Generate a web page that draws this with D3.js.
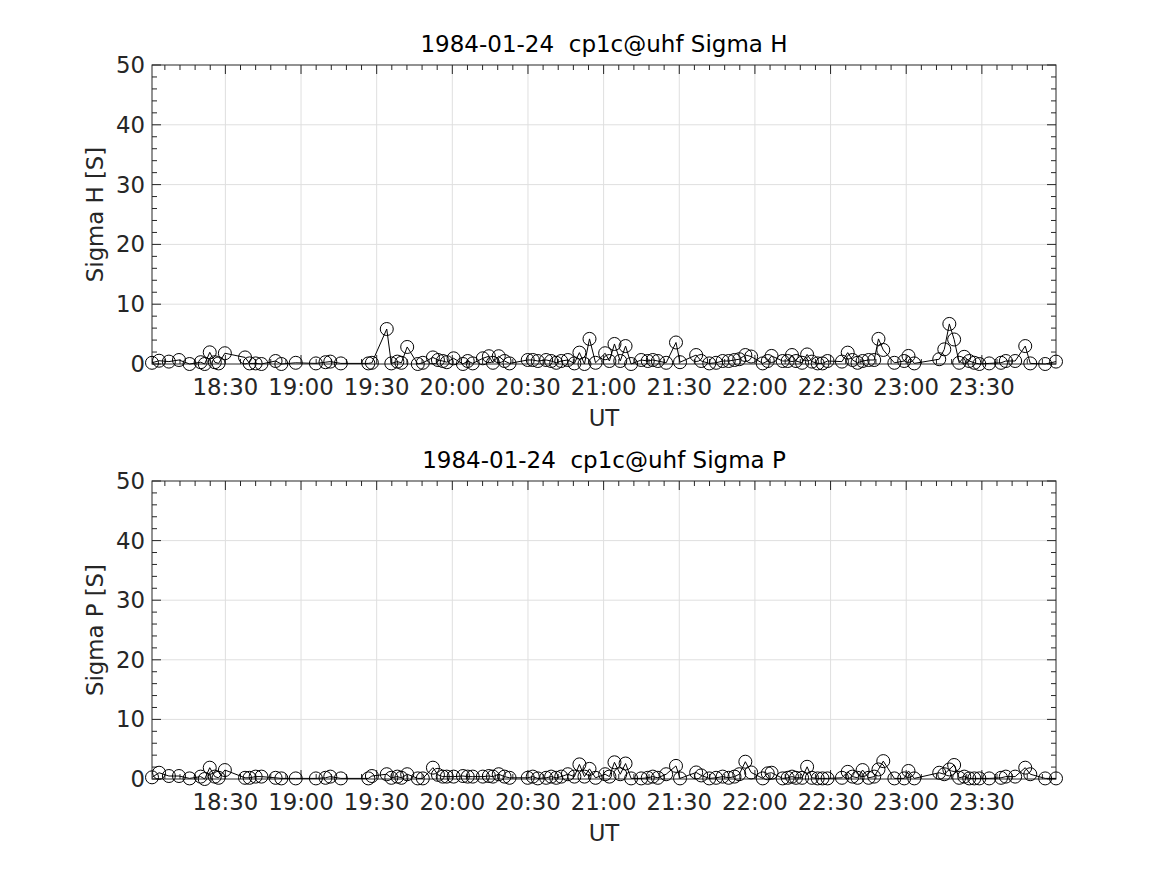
<!DOCTYPE html>
<html>
<head>
<meta charset="utf-8">
<script src="https://cdn.jsdelivr.net/npm/d3@7"></script>
<style>
  body { margin: 0; background: #fff; }
  text { font-family: "DejaVu Sans", sans-serif; fill: #262626; }
</style>
</head>
<body>
<div id="chart"></div>
<script>
// minutes after 18:00 UT, 1984-01-24
let utMinutes = [0.9, 3.7, 7.6, 11.6, 15.8, 20.2, 21.8, 23.8, 25.8, 27.3, 29.8, 37.8, 39.6, 42.0, 44.3, 49.9, 52.2, 57.9, 65.9, 69.7,
  71.6, 75.8, 86.7, 88.1, 94.0, 95.8, 98.2, 99.8, 102.1, 106.3, 108.3, 112.3, 114.3, 116.2, 117.8, 120.5, 124.2, 126.1, 128.1, 132.1,
  134.5, 136.1, 138.4, 140.7, 142.7, 149.9, 151.9, 153.9, 157.2, 159.2, 161.2, 163.2, 165.8, 168.4, 170.4, 172.4, 174.4, 176.8, 180.6, 182.3,
  184.3, 186.6, 188.7, 190.9, 194.9, 197.5, 199.5, 201.5, 204.8, 208.7, 210.3, 216.7, 218.7, 221.9, 224.6, 227.2, 229.6, 231.9, 233.8, 236.2,
  238.5, 243.1, 245.1, 246.6, 251.0, 253.0, 254.7, 256.3, 258.7, 260.7, 262.6, 264.9, 266.8, 268.8, 274.5, 276.8, 278.7, 280.7, 282.7, 285.1,
  287.3, 289.0, 290.9, 295.3, 299.2, 300.9, 303.2, 313.1, 315.1, 317.1, 319.0, 321.0, 323.0, 325.0, 327.0, 329.0, 332.9, 337.6, 339.5, 343.2,
  347.2, 349.2, 355.1, 359.4];

let sigmaH = [0.2, 0.55, 0.4, 0.67, 0, 0.3, 0, 1.95, 0.3, 0.1, 1.8, 1.1, 0.1, 0.1, 0, 0.5, 0, 0.2, 0.1, 0.3,
  0.4, 0.1, 0.1, 0.2, 5.85, 0.1, 0.4, 0.2, 2.85, 0, 0.2, 1.1, 0.67, 0.5, 0.3, 0.95, 0, 0.5, 0.1, 0.95,
  1.3, 0.2, 1.3, 0.5, 0.1, 0.67, 0.67, 0.5, 0.67, 0.5, 0.2, 0.5, 0.67, 0.1, 1.9, 0, 4.2, 0.2, 1.8, 0.5,
  3.35, 0.5, 3.0, 0, 0.67, 0.5, 0.67, 0.5, 0.2, 3.6, 0.3, 1.5, 0.5, 0.1, 0.2, 0.5, 0.5, 0.67, 0.8, 1.5,
  1.25, 0.1, 0.5, 1.35, 0.5, 0.5, 1.5, 0.5, 0.2, 1.6, 0.4, 0.1, 0.1, 0.5, 0.4, 1.9, 0.67, 0.2, 0.5, 0.67,
  0.67, 4.2, 2.35, 0.2, 0.5, 1.35, 0.1, 0.8, 2.45, 6.7, 4.1, 0.2, 1.2, 0.5, 0.2, 0, 0.1, 0.2, 0.5, 0.5,
  3.0, 0.1, 0, 0.4];

let sigmaP = [0.28, 1.05, 0.5, 0.5, 0.1, 0.4, 0, 1.9, 0.4, 0.2, 1.5, 0.2, 0.2, 0.4, 0.4, 0.2, 0.1, 0.1, 0.1, 0.2,
  0.4, 0.1, 0.1, 0.5, 0.8, 0.2, 0.4, 0.2, 0.8, 0.1, 0.1, 1.9, 0.7, 0.4, 0.4, 0.4, 0.5, 0.4, 0.4, 0.4,
  0.5, 0.4, 0.8, 0.4, 0.2, 0.2, 0.4, 0.1, 0.2, 0.4, 0.2, 0.4, 0.8, 0.4, 2.45, 0.4, 1.7, 0.2, 0.8, 0.4,
  2.8, 0.8, 2.6, 0.1, 0.1, 0.2, 0.4, 0.2, 0.8, 2.2, 0.1, 1.1, 0.6, 0.1, 0.2, 0.4, 0.2, 0.4, 0.8, 2.9,
  1.1, 0.1, 0.95, 1.05, 0.1, 0.2, 0.4, 0.2, 0.2, 2.05, 0.2, 0.1, 0.1, 0.1, 0.2, 1.2, 0.4, 0.2, 1.5, 0.2,
  0.4, 1.6, 3.0, 0.1, 0.1, 1.35, 0.1, 1.05, 0.8, 1.6, 2.35, 0.2, 0.4, 0.1, 0.1, 0.1, 0.1, 0.2, 0.4, 0.4,
  1.9, 0.8, 0.1, 0.1];

let yTicks = [0, 10, 20, 30, 40, 50];

const W = 1167, H = 875;
const left = 152, right = 1056;
const t0 = new Date(Date.UTC(1984, 0, 24, 18, 0, 0));
const times = utMinutes.map(m => new Date(t0.getTime() + m * 60000));

const svg = d3.select("#chart").append("svg").attr("width", W).attr("height", H);
svg.append("rect").attr("width", W).attr("height", H).attr("fill", "#fff");

const x = d3.scaleUtc().domain(d3.extent(times)).range([left, right]);
const axColor = "#262626";

function panel(top, bottom, values, title, ylabel) {
  const y = d3.scaleLinear().domain([0, 50]).range([bottom, top]);
  const g = svg.append("g");

  const major = x.ticks(d3.utcMinute.every(30)).filter(d => x(d) > left + 1 && x(d) < right - 1);
  const minor = x.ticks(d3.utcMinute.every(6)).filter(d => x(d) >= left && x(d) <= right);
  const yMinor = d3.range(0, 51, 2);

  // grid
  g.selectAll(".gx").data(major).join("line")
    .attr("x1", d => x(d)).attr("x2", d => x(d)).attr("y1", top).attr("y2", bottom)
    .attr("stroke", "#dfdfdf").attr("stroke-width", 1);
  g.selectAll(".gy").data(yTicks.slice(1, -1)).join("line")
    .attr("x1", left).attr("x2", right).attr("y1", d => y(d)).attr("y2", d => y(d))
    .attr("stroke", "#dfdfdf").attr("stroke-width", 1);

  // ticks on all four sides, pointing inward
  const tk = g.append("g").attr("stroke", axColor).attr("stroke-width", 1);
  minor.forEach(d => {
    const len = major.some(m => +m === +d) ? 9 : 5;
    tk.append("line").attr("x1", x(d)).attr("x2", x(d)).attr("y1", bottom).attr("y2", bottom - len);
    tk.append("line").attr("x1", x(d)).attr("x2", x(d)).attr("y1", top).attr("y2", top + len);
  });
  yMinor.forEach(v => {
    const len = v % 10 === 0 ? 9 : 5;
    tk.append("line").attr("x1", left).attr("x2", left + len).attr("y1", y(v)).attr("y2", y(v));
    tk.append("line").attr("x1", right).attr("x2", right - len).attr("y1", y(v)).attr("y2", y(v));
  });

  g.append("rect").attr("x", left).attr("y", top).attr("width", right - left).attr("height", bottom - top)
    .attr("fill", "none").attr("stroke", axColor).attr("stroke-width", 1);

  // tick labels
  g.selectAll(".xl").data(major).join("text")
    .attr("x", d => x(d)).attr("y", bottom + 31).attr("text-anchor", "middle")
    .style("font-size", "22.8px").text(d3.utcFormat("%H:%M"));
  g.selectAll(".yl").data(yTicks).join("text")
    .attr("x", left - 7).attr("y", d => y(d) + 8).attr("text-anchor", "end")
    .style("font-size", "22.8px").text(d => d);

  g.append("text").attr("x", (left + right) / 2).attr("y", bottom + 62).attr("text-anchor", "middle")
    .style("font-size", "22.8px").text("UT");
  g.append("text").attr("transform", `translate(${103},${(top + bottom) / 2}) rotate(-90)`)
    .attr("text-anchor", "middle").style("font-size", "22.8px").text(ylabel);
  g.append("text").attr("x", (left + right) / 2).attr("y", top - 13).attr("text-anchor", "middle")
    .style("font-size", "23px").style("white-space", "pre").style("fill", "#000").text(title);

  // data
  const pts = times.map((t, i) => [x(t), y(values[i])]);
  g.append("path").attr("d", d3.line()(pts)).attr("fill", "none").attr("stroke", "#000").attr("stroke-width", 1);
  g.selectAll(".pt").data(pts).join("circle")
    .attr("cx", d => d[0]).attr("cy", d => d[1]).attr("r", 6.5)
    .attr("fill", "none").attr("stroke", "#000").attr("stroke-width", 1);
}

panel(65, 364, sigmaH, "1984-01-24  cp1c@uhf Sigma H", "Sigma H [S]");
panel(481, 779, sigmaP, "1984-01-24  cp1c@uhf Sigma P", "Sigma P [S]");
</script>
</body>
</html>
